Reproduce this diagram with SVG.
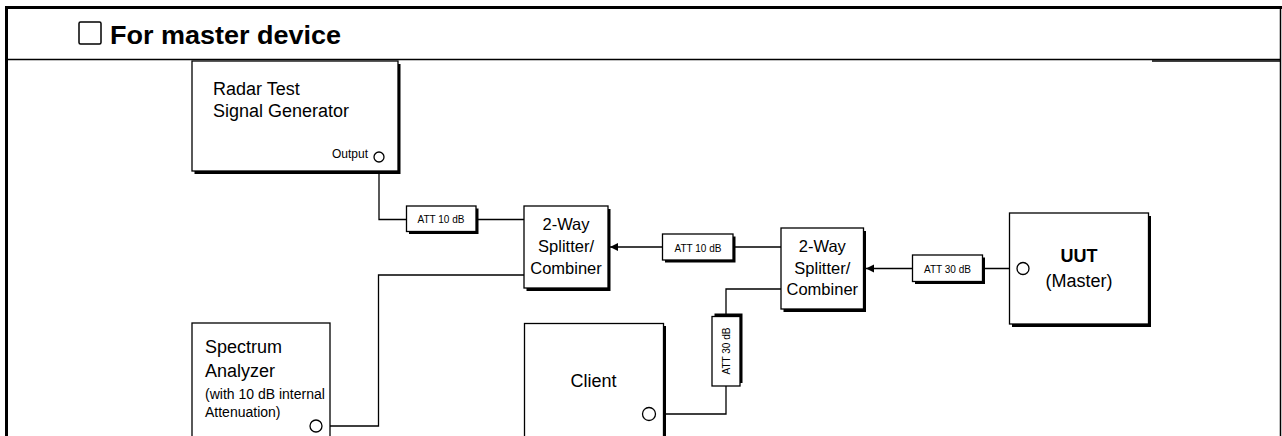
<svg xmlns="http://www.w3.org/2000/svg" width="1282" height="436" viewBox="0 0 1282 436">
<style>
text{font-family:"Liberation Sans",Arial,sans-serif;fill:#000}
.sh{fill:#000}
.bx{fill:#fff;stroke:#000;stroke-width:1.3}
.ln{fill:none;stroke:#000;stroke-width:1.3}
.pt{fill:#fff;stroke:#000;stroke-width:1.3}
.l18{font-size:18px}
.l14{font-size:14px}
.sp{font-size:16.5px;text-anchor:middle}
.att{font-size:11.5px;text-anchor:middle}
</style>
<defs>
<marker id="arr" viewBox="0 0 10 10" refX="10" refY="5" markerWidth="8" markerHeight="10" markerUnits="userSpaceOnUse" orient="auto">
<path d="M0,0 L10,5 L0,10 Z" fill="#000"/>
</marker>
</defs>
<rect width="1282" height="436" fill="#fff"/>
<g id="frame">
<rect x="5" y="6" width="1277" height="3" fill="#000"/>
<rect x="5" y="6" width="3" height="430" fill="#000"/>
<line x1="1280.5" y1="6" x2="1280.5" y2="436" stroke="#000" stroke-width="1.5"/>
<line x1="5" y1="59.5" x2="1281" y2="59.5" stroke="#000" stroke-width="1.5"/>
<line x1="1152" y1="61" x2="1281" y2="61" stroke="#000" stroke-width="1.5"/>
</g>
<g id="header">
<rect x="79" y="22" width="22" height="22" rx="1.5" fill="#fff" stroke="#000" stroke-width="1.5"/>
<text x="110" y="44" font-size="26" font-weight="bold" textLength="231" lengthAdjust="spacingAndGlyphs">For master device</text>
</g>
<g id="connectors">
<path class="ln" d="M379,162 V219.5 H406.5"/>
<path class="ln" d="M476,219.5 H524"/>
<path class="ln" d="M524,275 H378.5 V426 H322"/>
<path class="ln" d="M662.5,247 H610" marker-end="url(#arr)"/>
<path class="ln" d="M781,247 H733"/>
<path class="ln" d="M912.5,268.5 H866" marker-end="url(#arr)"/>
<path class="ln" d="M983,268.5 H1017"/>
<path class="ln" d="M781,289 H726 V316.5"/>
<path class="ln" d="M726,386 V414 H655.5"/>
</g>
<g id="radar">
<rect class="sh" x="194.5" y="64" width="206" height="110"/>
<rect class="bx" x="192" y="61" width="206" height="110"/>
<text class="l18" x="213" y="95">Radar Test</text>
<text class="l18" x="213" y="117">Signal Generator</text>
<text x="368" y="158" font-size="12" text-anchor="end">Output</text>
<circle class="pt" cx="379" cy="157" r="5"/>
</g>
<g id="att1">
<rect class="sh" x="409" y="208.5" width="69.5" height="25.5"/>
<rect class="bx" x="406.5" y="206" width="69.5" height="25.5"/>
<text class="att" x="441" y="223" textLength="47" lengthAdjust="spacingAndGlyphs">ATT 10 dB</text>
</g>
<g id="splitter1">
<rect class="sh" x="526.5" y="209" width="84" height="82"/>
<rect class="bx" x="524" y="206" width="84" height="82"/>
<text class="sp" x="566" y="230">2-Way</text>
<text class="sp" x="566" y="252">Splitter/</text>
<text class="sp" x="566" y="273.5">Combiner</text>
</g>
<g id="att2">
<rect class="sh" x="665" y="236.5" width="70.5" height="26"/>
<rect class="bx" x="662.5" y="234" width="70.5" height="26"/>
<text class="att" x="698" y="251.5" textLength="47" lengthAdjust="spacingAndGlyphs">ATT 10 dB</text>
</g>
<g id="splitter2">
<rect class="sh" x="783.5" y="231" width="82.5" height="81"/>
<rect class="bx" x="781" y="228" width="82.5" height="81"/>
<text class="sp" x="822.3" y="252">2-Way</text>
<text class="sp" x="822.3" y="273.5">Splitter/</text>
<text class="sp" x="822.3" y="295">Combiner</text>
</g>
<g id="att3">
<rect class="sh" x="915" y="257.5" width="70" height="26.5"/>
<rect class="bx" x="912.5" y="255" width="70" height="26.5"/>
<text class="att" x="947.5" y="272.5" textLength="47" lengthAdjust="spacingAndGlyphs">ATT 30 dB</text>
</g>
<g id="uut">
<rect class="sh" x="1012" y="216" width="139" height="111"/>
<rect class="bx" x="1009.5" y="213" width="139" height="111"/>
<text class="l18" x="1079" y="262" text-anchor="middle" font-weight="bold">UUT</text>
<text class="l18" x="1079" y="287" text-anchor="middle">(Master)</text>
<circle class="pt" cx="1023" cy="268.5" r="6"/>
</g>
<g id="spectrum">
<rect class="bx" x="192" y="323" width="138" height="120"/>
<text class="l18" x="205" y="353">Spectrum</text>
<text class="l18" x="205" y="377">Analyzer</text>
<text class="l14" x="205" y="398.5">(with 10 dB internal</text>
<text class="l14" x="205" y="417">Attenuation)</text>
<circle class="pt" cx="316" cy="426" r="6"/>
</g>
<g id="client">
<rect class="sh" x="527" y="326" width="139" height="120"/>
<rect class="bx" x="524.5" y="323.5" width="139" height="120"/>
<text class="l18" x="593.5" y="387" text-anchor="middle">Client</text>
<circle class="pt" cx="649" cy="414" r="6.5"/>
</g>
<g id="att4">
<rect class="sh" x="714.5" y="313.5" width="28" height="69.5"/>
<rect class="bx" x="712" y="316.5" width="28" height="69.5"/>
<text class="att" transform="translate(730,351) rotate(-90)" x="0" y="0" textLength="47" lengthAdjust="spacingAndGlyphs">ATT 30 dB</text>
</g>
</svg>
